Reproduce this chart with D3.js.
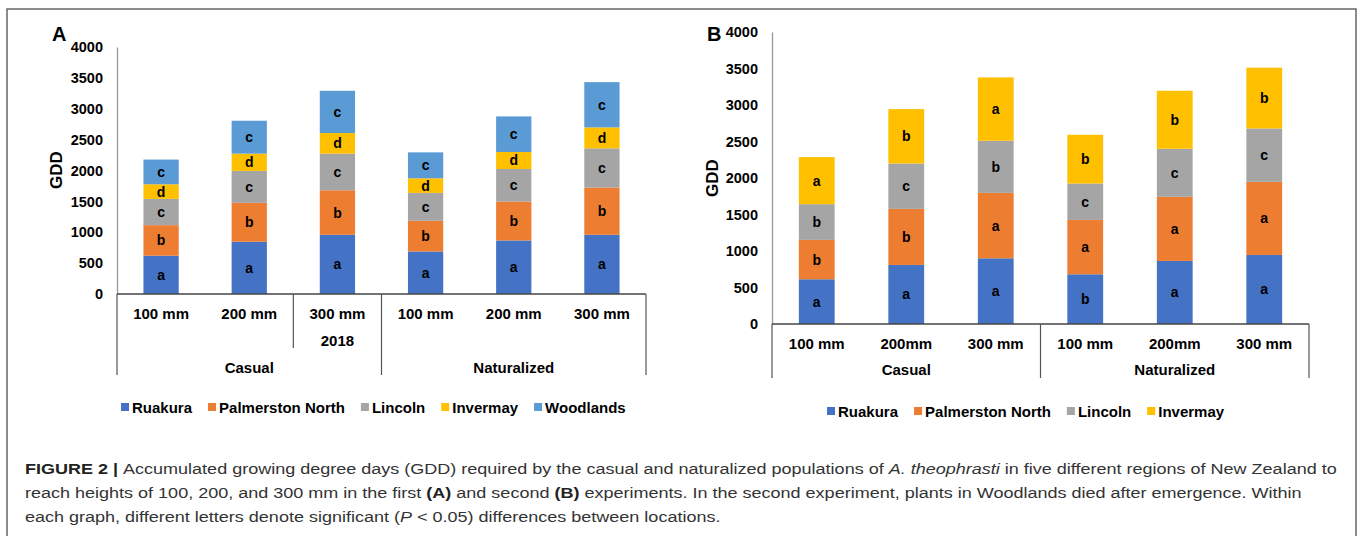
<!DOCTYPE html>
<html>
<head>
<meta charset="utf-8">
<script src="https://cdn.jsdelivr.net/npm/d3@7"></script>
<style>
  body { margin: 0; background: #fff; }
  svg text { font-family: "Liberation Sans", Arial, sans-serif; }
</style>
</head>
<body>
<div id="chart"></div>
<script>
// ---- data ----
const seriesA = ["Ruakura", "Palmerston North", "Lincoln", "Invermay", "Woodlands"];
const seriesB = ["Ruakura", "Palmerston North", "Lincoln", "Invermay"];
const colors = ["#4472C4", "#ED7D31", "#A5A5A5", "#FFC000", "#5B9BD5"];

const catsA = ["100 mm", "200 mm", "300 mm", "100 mm", "200 mm", "300 mm"];
const subA = ["", "", "2018", "", "", ""];
const catsB = ["100 mm", "200mm", "300 mm", "100 mm", "200mm", "300 mm"];
const groups = ["Casual", "Naturalized"];
const yTicks = [0, 500, 1000, 1500, 2000, 2500, 3000, 3500, 4000];

// experiment 1 (A)
const ruakuraA    = [620, 846, 959, 689, 867, 959];
const palmerstonA = [495, 630, 721, 496, 630, 765];
const lincolnA    = [425, 517, 593, 452, 528, 635];
const invermayA   = [237, 280, 334, 237, 275, 339];
const woodlandsA  = [400, 533, 684, 420, 576, 733];
const lettersA = [
  ["a", "a", "a", "a", "a", "a"],
  ["b", "b", "b", "b", "b", "b"],
  ["c", "c", "c", "c", "c", "c"],
  ["d", "d", "d", "d", "d", "d"],
  ["c", "c", "c", "c", "c", "c"]
];

// experiment 2 (B)
const ruakuraB    = [613, 809, 900, 681, 864, 946];
const palmerstonB = [539, 768, 896, 745, 878, 1001];
const lincolnB    = [489, 622, 714, 498, 658, 732];
const invermayB   = [645, 745, 868, 668, 795, 832];
const lettersB = [
  ["a", "a", "a", "b", "a", "a"],
  ["b", "b", "a", "a", "a", "a"],
  ["b", "c", "b", "c", "c", "c"],
  ["a", "b", "a", "b", "b", "b"]
];

const W = 1358, H = 536;
const svg = d3.select("#chart").append("svg")
  .attr("width", W).attr("height", H);

// outer frame of the figure
svg.append("rect")
  .attr("x", 7).attr("y", 9)
  .attr("width", 1349).attr("height", 540)
  .attr("fill", "none").attr("stroke", "#666").attr("stroke-width", 1.5);

function drawPanel(p) {
  const rows = p.cats.map((c, i) => {
    const r = { i: i };
    p.series.forEach((s, k) => { r[s] = p.values[k][i]; });
    return r;
  });
  const stack = d3.stack().keys(p.series)(rows);

  const x = d3.scaleBand()
    .domain(d3.range(p.cats.length))
    .range([p.x0, p.x1])
    .paddingInner(0.6)
    .paddingOuter(0.3);
  const y = d3.scaleLinear().domain([0, 4000]).range([p.yBottom, p.yTop]);
  const step = x.step();

  const g = svg.append("g");

  // bars
  stack.forEach((layer, k) => {
    const lg = g.append("g").attr("fill", colors[k]);
    lg.selectAll("rect").data(layer).enter().append("rect")
      .attr("x", d => x(d.data.i))
      .attr("y", d => y(d[1]))
      .attr("width", x.bandwidth())
      .attr("height", d => y(d[0]) - y(d[1]));
    g.append("g").selectAll("text").data(layer).enter().append("text")
      .attr("x", d => x(d.data.i) + x.bandwidth() / 2)
      .attr("y", d => (y(d[0]) + y(d[1])) / 2)
      .attr("text-anchor", "middle")
      .attr("dominant-baseline", "central")
      .attr("font-size", 14).attr("font-weight", "bold")
      .attr("fill", "#000")
      .text((d, i) => p.letters[k][i]);
  });

  // y axis
  const ya = g.append("g")
    .attr("transform", `translate(${p.x0},0)`)
    .call(d3.axisLeft(y).tickValues(yTicks).tickFormat(d3.format("d"))
      .tickSize(0).tickPadding(14));
  ya.select(".domain").attr("stroke", "#999").attr("stroke-width", 1.3);
  ya.selectAll("text")
    .attr("font-size", 14.5).attr("font-weight", "bold")
    .attr("fill", "#000")
    .style("font-family", '"Liberation Sans", Arial, sans-serif');

  // x axis line and multi-level category lines
  g.append("line")
    .attr("x1", p.x0).attr("x2", p.x1)
    .attr("y1", p.yBottom).attr("y2", p.yBottom)
    .attr("stroke", "#444").attr("stroke-width", 1.3);
  p.dividers.forEach(dv => {
    g.append("line")
      .attr("x1", p.x0 + dv[0] * step).attr("x2", p.x0 + dv[0] * step)
      .attr("y1", p.yBottom).attr("y2", dv[1])
      .attr("stroke", "#555").attr("stroke-width", 1.2);
  });

  const lab = g.append("g")
    .attr("font-size", 15).attr("font-weight", "bold")
    .attr("text-anchor", "middle").attr("fill", "#000");
  lab.selectAll("text.cat").data(p.cats).enter().append("text")
    .attr("class", "cat")
    .attr("x", (d, i) => x(i) + x.bandwidth() / 2)
    .attr("y", p.catY)
    .attr("dominant-baseline", "central")
    .text(d => d);
  if (p.sub) {
    lab.selectAll("text.sub").data(p.sub).enter().append("text")
      .attr("class", "sub")
      .attr("x", (d, i) => x(i) + x.bandwidth() / 2)
      .attr("y", p.subY)
      .attr("dominant-baseline", "central")
      .text(d => d);
  }
  lab.selectAll("text.grp").data(groups).enter().append("text")
    .attr("class", "grp")
    .attr("x", (d, i) => p.x0 + step * (1.5 + 3 * i))
    .attr("y", p.grpY)
    .attr("dominant-baseline", "central")
    .text(d => d);

  // y title + panel letter
  g.append("text")
    .attr("transform", `translate(${p.gddX},${p.gddY}) rotate(-90)`)
    .attr("text-anchor", "middle").attr("dominant-baseline", "central")
    .attr("font-size", 17).attr("font-weight", "bold")
    .text("GDD");
  g.append("text")
    .attr("x", p.tagX).attr("y", 41)
    .attr("font-size", 20).attr("font-weight", "bold")
    .text(p.tag);

  // legend
  const leg = g.append("g").attr("font-size", 15).attr("font-weight", "bold");
  let lx = p.legX;
  p.series.forEach((s, k) => {
    leg.append("rect")
      .attr("x", lx).attr("y", p.legY - 4)
      .attr("width", 8).attr("height", 8)
      .attr("fill", colors[k]);
    const t = leg.append("text")
      .attr("x", lx + 11).attr("y", p.legY)
      .attr("dominant-baseline", "central")
      .text(s);
    lx += 11 + t.node().getComputedTextLength() + 16;
  });
}

drawPanel({
  tag: "A", tagX: 52,
  series: seriesA, cats: catsA, sub: subA,
  values: [ruakuraA, palmerstonA, lincolnA, invermayA, woodlandsA],
  letters: lettersA,
  x0: 117, x1: 646, yBottom: 294, yTop: 47,
  catY: 313, subY: 340, grpY: 367,
  dividers: [[0, 375], [2, 348], [3, 375], [6, 375]],
  gddX: 56, gddY: 170,
  legX: 121, legY: 407
});

drawPanel({
  tag: "B", tagX: 707,
  series: seriesB, cats: catsB, sub: null,
  values: [ruakuraB, palmerstonB, lincolnB, invermayB],
  letters: lettersB,
  x0: 772, x1: 1309, yBottom: 324, yTop: 32,
  catY: 343, subY: 0, grpY: 369,
  dividers: [[0, 378], [3, 378], [6, 378]],
  gddX: 712, gddY: 178,
  legX: 827, legY: 411
});

// caption
const cap = svg.append("g").attr("font-size", 15.5).attr("fill", "#333");
const capLines = [
  [["FIGURE 2 | ", "b"], ["Accumulated growing degree days (GDD) required by the casual and naturalized populations of ", ""], ["A. theophrasti", "i"], [" in five different regions of New Zealand to", ""]],
  [["reach heights of 100, 200, and 300 mm in the first ", ""], ["(A)", "b"], [" and second ", ""], ["(B)", "b"], [" experiments. In the second experiment, plants in Woodlands died after emergence. Within", ""]],
  [["each graph, different letters denote significant (", ""], ["P", "i"], [" < 0.05) differences between locations.", ""]]
];
const capY = [474, 498, 522];
let sx = 1;
capLines.forEach((parts, li) => {
  const t = cap.append("text").attr("x", 0).attr("y", 0);
  parts.forEach(pt => {
    const ts = t.append("tspan").text(pt[0]);
    if (pt[1] === "b") ts.attr("font-weight", "bold").attr("fill", "#222");
    if (pt[1] === "i") ts.attr("font-style", "italic");
  });
  if (li === 0) sx = (1337 - 25) / t.node().getComputedTextLength();
  t.attr("transform", `translate(25,${capY[li]}) scale(${sx},1)`);
});
</script>
</body>
</html>
